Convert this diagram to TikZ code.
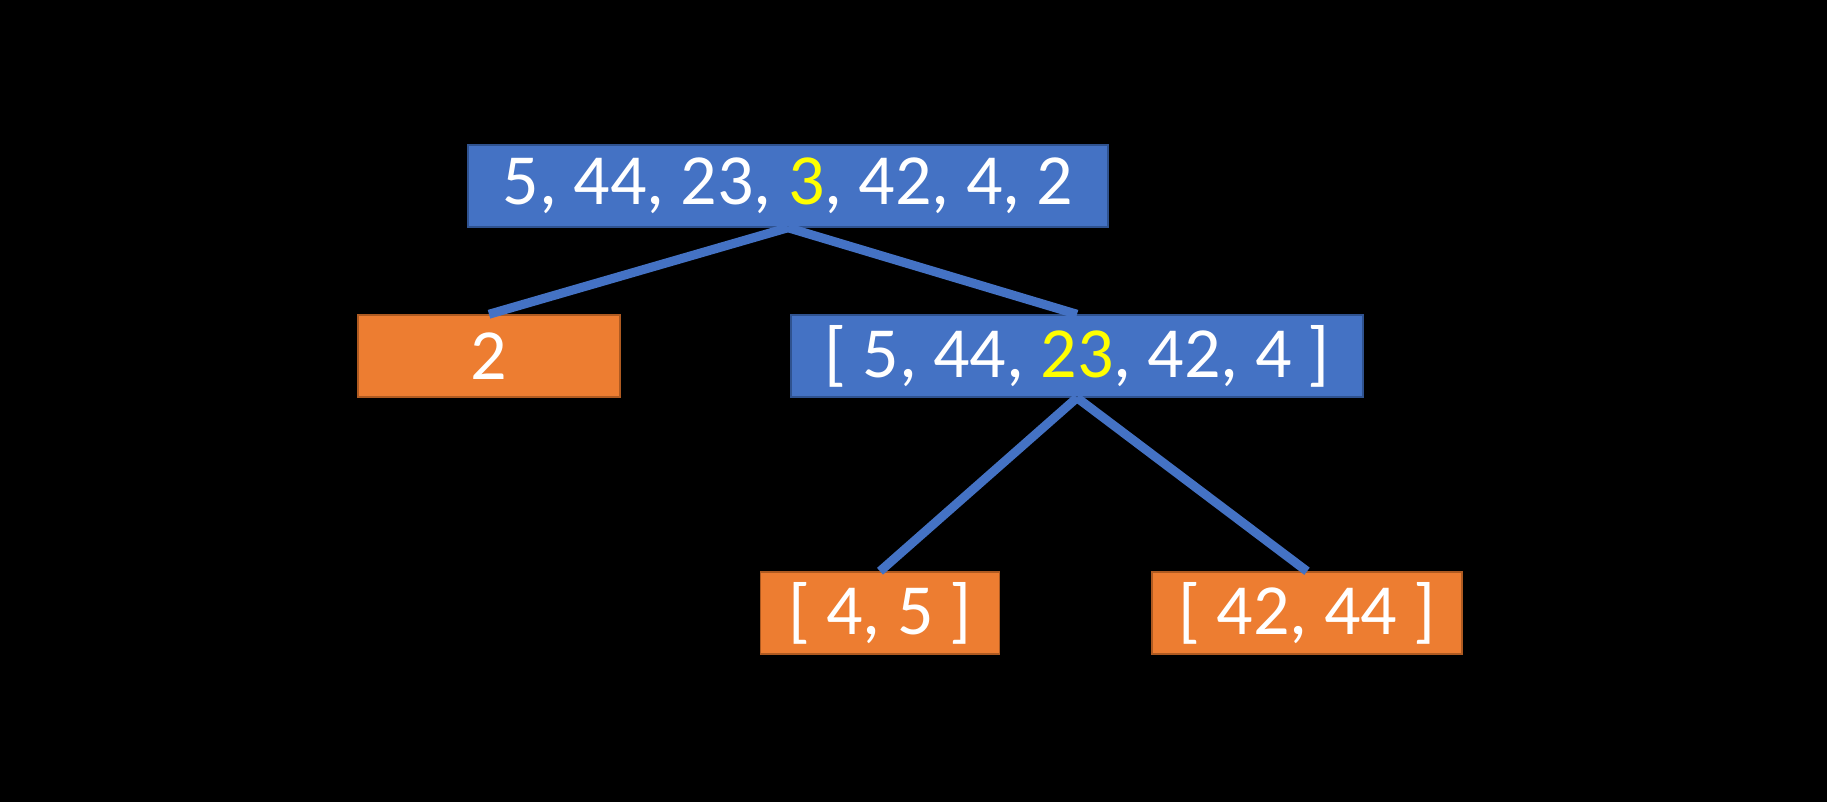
\documentclass[tikz,border=0pt]{standalone}
\usepackage{fontspec}
\setmainfont{Carlito}
\definecolor{bfill}{HTML}{4472C4}
\definecolor{bline}{HTML}{2F528F}
\definecolor{ofill}{HTML}{ED7D31}
\definecolor{oline}{HTML}{AE5A21}
\definecolor{hl}{HTML}{FFFF00}
\begin{document}
\begin{tikzpicture}[x=1pt,y=-1pt,
  box/.style={draw, line width=1.5pt, inner sep=0pt, text=white, font=\fontsize{72}{78}\selectfont, minimum height=82pt},
  bluebox/.style={box, fill=bfill, draw=bline},
  orangebox/.style={box, fill=ofill, draw=oline},
  edge/.style={draw=bfill, line width=9pt}]
\fill[black] (0,0) rectangle (1827,802);
\useasboundingbox (0,0) rectangle (1827,802);
\node[bluebox, minimum width=640pt] (top) at (788,186) {5, 44, 23, \textcolor{hl}{3}, 42, 4, 2};
\node[orangebox, minimum width=262pt] (two) at (489,356) {2};
\node[bluebox, minimum width=572pt] (mid) at (1077,356) {[ 5, 44, \textcolor{hl}{23}, 42, 4 ]};
\node[orangebox, minimum width=239pt] (l) at (880,613) {[ 4, 5 ]};
\node[orangebox, minimum width=310pt] (r) at (1307,613) {[ 42, 44 ]};
\draw[edge] (top.south) -- (two.north);
\draw[edge] (top.south) -- (mid.north);
\draw[edge] (mid.south) -- (l.north);
\draw[edge] (mid.south) -- (r.north);
\end{tikzpicture}
\end{document}
